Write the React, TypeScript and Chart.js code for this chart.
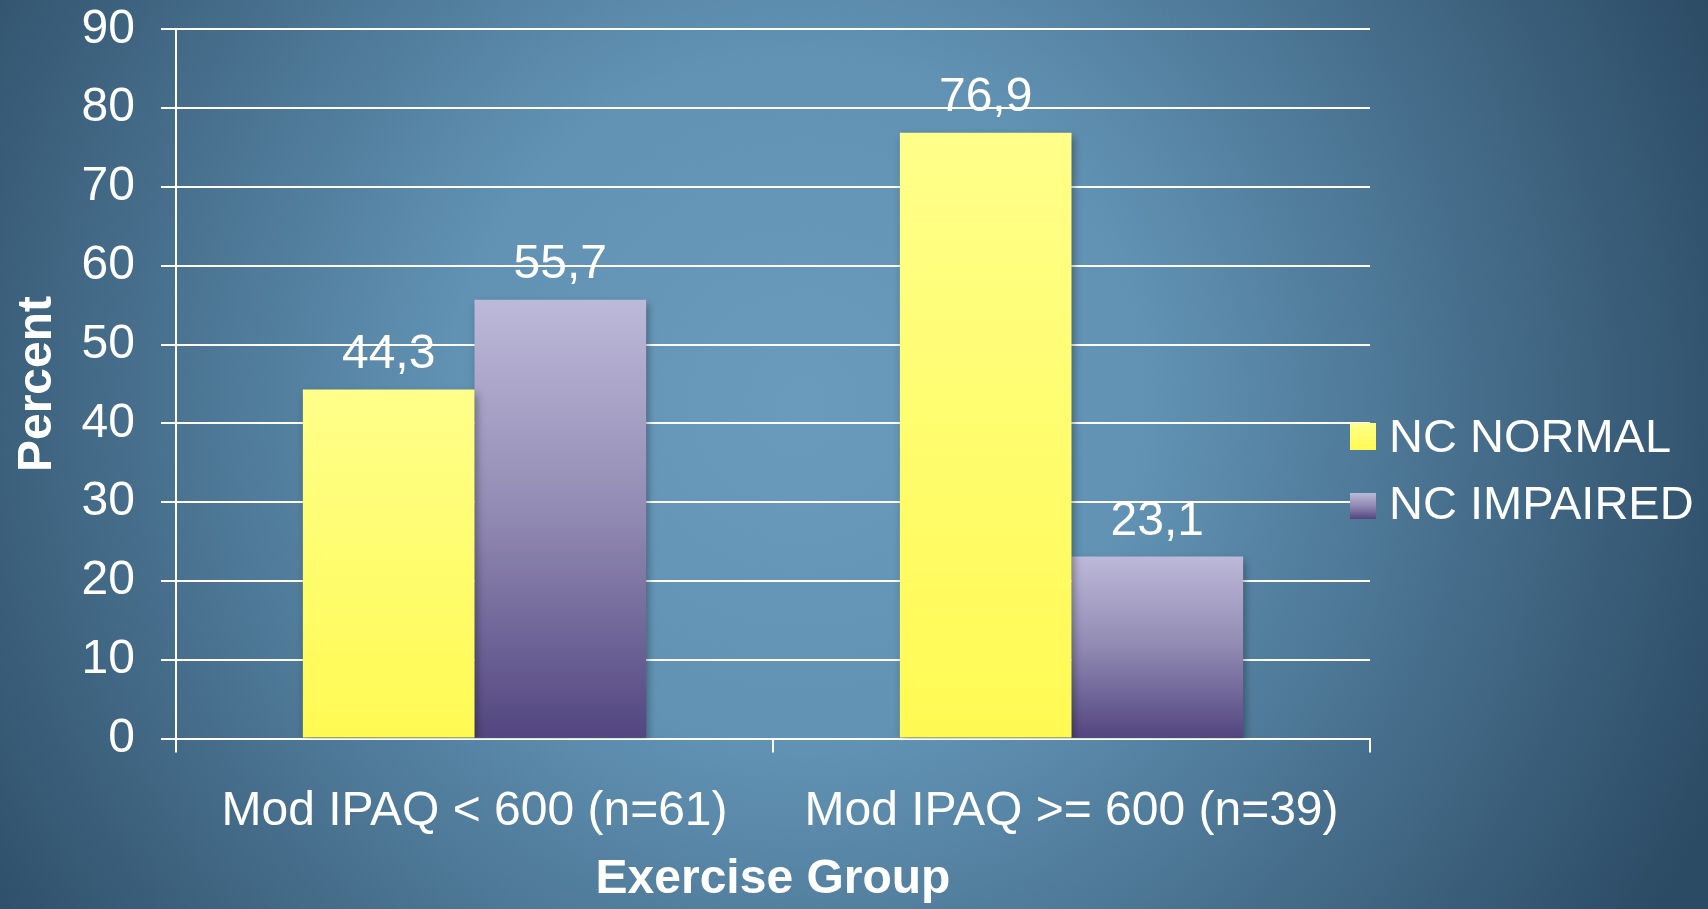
import React, { useEffect, useRef } from "react";
import { Chart, registerables } from "chart.js";

Chart.register(...registerables);

const categories = ["Mod IPAQ < 600 (n=61)", "Mod IPAQ >= 600 (n=39)"];
const seriesNames = ["NC NORMAL", "NC IMPAIRED"];
const normalValues = [44.3, 76.9];
const impairedValues = [55.7, 23.1];
const yTicks = { min: 0, max: 90, step: 10 };
const xTitle = "Exercise Group";
const yTitle = "Percent";

const FONT = "'Liberation Sans', Arial, sans-serif";
const FS = 48;
const W = 1708;
const H = 909;

const yellowStops: [number, string][] = [
  [0, "#ffff8a"],
  [1, "#fffa52"],
];
const purpleStops: [number, string][] = [
  [0, "#bdb9d9"],
  [0.5, "#9089b2"],
  [1, "#524580"],
];

function makeGrad(ctx: CanvasRenderingContext2D, top: number, bottom: number, stops: [number, string][]) {
  const g = ctx.createLinearGradient(0, top, 0, bottom);
  stops.forEach(([o, c]) => g.addColorStop(o, c));
  return g;
}

function barColor(stops: [number, string][]) {
  return (c: any) => {
    if (c.type !== "data") return stops[0][1];
    const chart = c.chart;
    const y = chart.scales && chart.scales.y;
    if (!y || !c.parsed) return stops[0][1];
    const top = y.getPixelForValue(c.parsed.y);
    const bottom = y.getPixelForValue(0);
    if (!isFinite(top) || !isFinite(bottom) || top === bottom) return stops[0][1];
    return makeGrad(chart.ctx, top, bottom, stops);
  };
}

const bgPlugin = {
  id: "bg",
  beforeDraw(chart: any) {
    const ctx = chart.ctx as CanvasRenderingContext2D;
    ctx.save();
    const g = ctx.createRadialGradient(800, 400, 0, 800, 400, 1000);
    g.addColorStop(0, "#6a9bbc");
    g.addColorStop(0.35, "#6192b3");
    g.addColorStop(1, "#2b4a64");
    ctx.fillStyle = g;
    ctx.fillRect(0, 0, chart.width, chart.height);
    ctx.restore();
  },
};

const barFx = {
  id: "barFx",
  beforeDatasetsDraw(chart: any) {
    const ctx = chart.ctx as CanvasRenderingContext2D;
    ctx.save();
    ctx.shadowColor = "rgba(0,0,0,0.35)";
    ctx.shadowBlur = 8;
    ctx.shadowOffsetX = 2;
    ctx.shadowOffsetY = 4;
  },
  afterDatasetsDraw(chart: any) {
    const ctx = chart.ctx as CanvasRenderingContext2D;
    ctx.restore();
    ctx.save();
    ctx.fillStyle = "#ffffff";
    ctx.font = `${FS}px ${FONT}`;
    ctx.textAlign = "center";
    ctx.textBaseline = "alphabetic";
    chart.data.datasets.forEach((ds: any, i: number) => {
      const meta = chart.getDatasetMeta(i);
      meta.data.forEach((el: any, j: number) => {
        const v = ds.data[j];
        const txt = String(v).replace(".", ",");
        ctx.fillText(txt, el.x, el.y - 22);
      });
    });
    // legend
    const rows = [
      { name: seriesNames[0], stops: yellowStops, top: 423, bottom: 450, base: 452 },
      { name: seriesNames[1], stops: purpleStops, top: 493, bottom: 519, base: 519 },
    ];
    ctx.textAlign = "left";
    ctx.font = `47px ${FONT}`;
    rows.forEach((r) => {
      ctx.fillStyle = makeGrad(ctx, r.top, r.bottom, r.stops);
      ctx.fillRect(1350, r.top, 26, r.bottom - r.top);
      ctx.fillStyle = "#ffffff";
      ctx.fillText(r.name, 1389, r.base);
    });
    ctx.restore();
  },
};

export default function App() {
  const ref = useRef<HTMLCanvasElement | null>(null);
  useEffect(() => {
    document.body.style.margin = "0";
    if (!ref.current) return;
    const chart = new Chart(ref.current, {
      type: "bar",
      data: {
        labels: categories,
        datasets: [
          {
            label: seriesNames[0],
            data: normalValues,
            backgroundColor: barColor(yellowStops) as any,
            categoryPercentage: 0.575,
            barPercentage: 1,
          },
          {
            label: seriesNames[1],
            data: impairedValues,
            backgroundColor: barColor(purpleStops) as any,
            categoryPercentage: 0.575,
            barPercentage: 1,
          },
        ],
      },
      options: {
        animation: false,
        responsive: true,
        maintainAspectRatio: false,
        layout: { padding: { top: 29.4, right: 338, left: 0, bottom: 0 } },
        plugins: { legend: { display: false }, tooltip: { enabled: false } },
        scales: {
          x: {
            grid: {
              display: true,
              drawOnChartArea: false,
              drawTicks: true,
              tickLength: 14,
              color: "#ffffff",
              lineWidth: 2,
              offset: true,
            },
            border: { display: true, color: "#ffffff", width: 2 },
            ticks: {
              color: "#ffffff",
              font: { size: FS, family: FONT },
              padding: 30,
              maxRotation: 0,
              autoSkip: false,
            },
            title: {
              display: true,
              text: xTitle,
              color: "#ffffff",
              font: { size: FS, family: FONT, weight: "bold" },
              padding: 0,
            },
            afterFit: (s: any) => {
              s.height = H - 738.6;
              s.paddingLeft = 0;
              s.paddingRight = 0;
            },
          },
          y: {
            min: yTicks.min,
            max: yTicks.max,
            ticks: {
              stepSize: yTicks.step,
              color: "#ffffff",
              font: { size: FS, family: FONT },
              padding: 26,
            },
            grid: { color: "#ffffff", lineWidth: 2, tickLength: 15 },
            border: { display: true, color: "#ffffff", width: 2 },
            title: {
              display: true,
              text: yTitle,
              color: "#ffffff",
              font: { size: FS, family: FONT, weight: "bold" },
              padding: { top: 9, bottom: 0 },
            },
            afterFit: (s: any) => {
              s.width = 176;
              s.paddingTop = 0;
              s.paddingBottom = 0;
            },
          },
        },
      },
      plugins: [bgPlugin, barFx],
    });
    return () => chart.destroy();
  }, []);
  return (
    <div style={{ position: "fixed", left: 0, top: 0, width: W, height: H }}>
      <canvas ref={ref} />
    </div>
  );
}
